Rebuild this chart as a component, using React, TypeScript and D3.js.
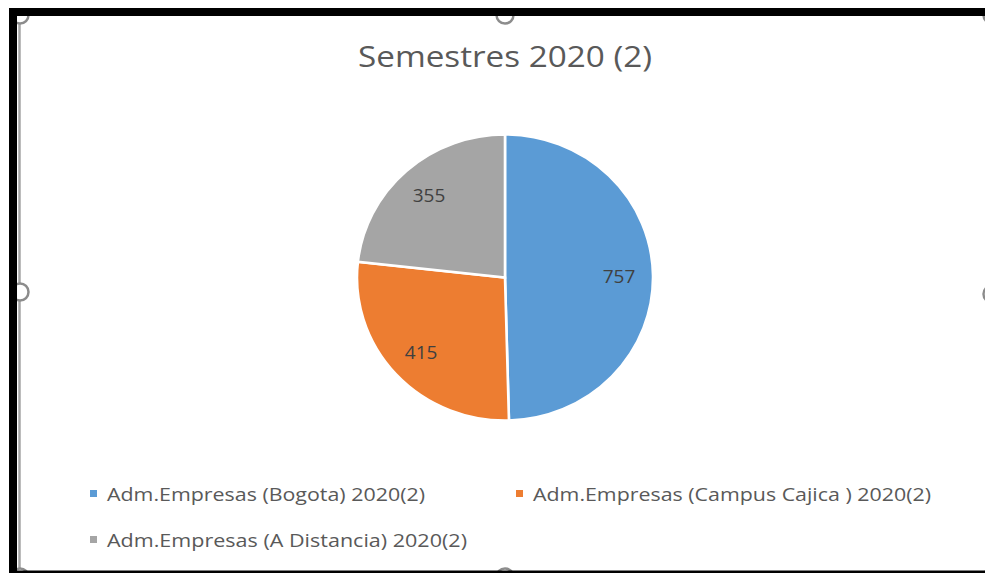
import React from "react";
import * as d3 from "d3";

const categories = [
  "Adm.Empresas (Bogota) 2020(2)",
  "Adm.Empresas (Campus Cajica ) 2020(2)",
  "Adm.Empresas (A Distancia) 2020(2)",
];
const values = [757, 415, 355];
const colors = ["#5B9BD5", "#ED7D31", "#A5A5A5"];
const title = "Semestres 2020 (2)";

const W = 985;
const H = 573;

export default function App() {
  const cx = 505;
  const cy = 277.5;
  const R = 143;
  const sx = 1.035;

  const pie = d3.pie<number>().sort(null).value((d) => d)(values);
  const arc = d3.arc<d3.PieArcDatum<number>>().innerRadius(0).outerRadius(R);
  const labelArc = d3
    .arc<d3.PieArcDatum<number>>()
    .innerRadius(R * 0.77)
    .outerRadius(R * 0.77);

  const font = "'Open Sans', 'Noto Sans', sans-serif";

  const legendItems = [
    { x: 90, y: 494, tl: 318 },
    { x: 516, y: 494, tl: 398 },
    { x: 90, y: 540, tl: 360 },
  ];

  const handles = [
    [20, 15],
    [505, 15],
    [992, 15],
    [20, 292],
    [992, 294],
    [20, 577],
    [505, 577],
    [992, 577],
  ];

  return (
    <svg
      width={W}
      height={H}
      style={{ position: "fixed", left: 0, top: 0, display: "block", background: "#fff" }}
    >
      <defs>
        <clipPath id="frameClip">
          <rect x={9} y={8} width={W - 9} height={H - 8} />
        </clipPath>
      </defs>
      <rect x={0} y={0} width={W} height={H} fill="#fff" />
      <g clipPath="url(#frameClip)">
        {/* frame line */}
        <line x1={19.5} y1={8} x2={19.5} y2={H} stroke="#a6a6a6" strokeWidth={2.5} />
        {/* handles */}
        {handles.map(([hx, hy], i) => (
          <circle key={i} cx={hx} cy={hy} r={8.5} fill="#fff" stroke="#8c8c8c" strokeWidth={2.5} />
        ))}
      </g>
      {/* black borders */}
      <rect x={9} y={8} width={W - 9} height={8} fill="#000" />
      <rect x={9} y={8} width={8} height={H - 8} fill="#000" />
      <rect x={9} y={570.5} width={W - 9} height={3} fill="#000" />

      <text
        x={cx}
        y={67}
        textAnchor="middle"
        fontFamily={font}
        fontSize={30}
        fill="#595959"
        textLength={294}
        lengthAdjust="spacingAndGlyphs"
      >
        {title}
      </text>

      <g transform={`translate(${cx},${cy}) scale(${sx},1)`}>
        {pie.map((p, i) => (
          <path key={i} d={arc(p) || ""} fill={colors[i]} stroke="#fff" strokeWidth={2.5} />
        ))}
      </g>
      <g transform={`translate(${cx},${cy})`}>
        {pie.map((p, i) => {
          const [lx, ly] = labelArc.centroid(p);
          return (
            <text
              key={i}
              x={lx * sx}
              y={ly}
              dy="0.35em"
              textAnchor="middle"
              fontFamily={font}
              fontSize={19}
              fill="#404040"
            >
              {values[i]}
            </text>
          );
        })}
      </g>

      {categories.map((c, i) => {
        const it = legendItems[i];
        return (
          <g key={i}>
            <rect x={it.x} y={it.y - 4} width={7} height={7} fill={colors[i]} />
            <text
              x={it.x + 17}
              y={it.y}
              dy="0.35em"
              fontFamily={font}
              fontSize={19}
              fill="#595959"
              textLength={it.tl}
              lengthAdjust="spacingAndGlyphs"
            >
              {c}
            </text>
          </g>
        );
      })}
    </svg>
  );
}
